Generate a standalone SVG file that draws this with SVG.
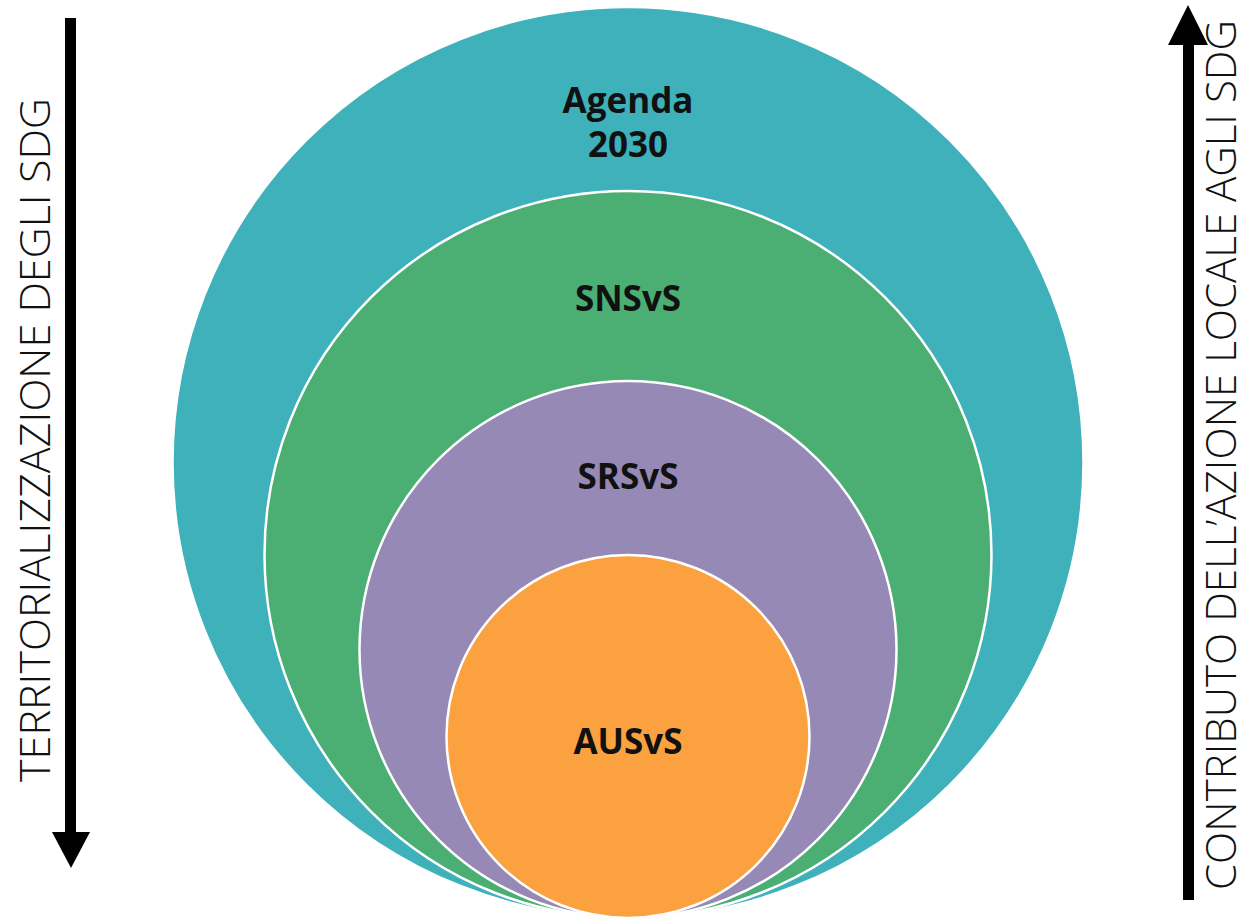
<svg xmlns="http://www.w3.org/2000/svg" width="1246" height="922" viewBox="0 0 1246 922">
<style>
.ring{stroke:#ffffff;stroke-width:2.5}
.lbl{font-family:"Open Sans","DejaVu Sans",sans-serif;font-weight:700;font-size:35px;fill:#111111;text-anchor:middle}
.side{font-family:"Open Sans","DejaVu Sans",sans-serif;font-weight:300;font-size:42px;fill:#111111;text-anchor:middle}
</style>
<rect width="1246" height="922" fill="#ffffff"/>
<g id="agenda2030">
<circle class="ring" cx="628" cy="462.5" r="455.5" fill="#3EB1BB"/>
<text class="lbl" x="628" y="113">Agenda</text>
<text class="lbl" x="628" y="157">2030</text>
</g>
<g id="snsvs">
<circle class="ring" cx="628" cy="554.5" r="363.5" fill="#4BAE72"/>
<text class="lbl" x="628" y="311">SNSvS</text>
</g>
<g id="srsvs">
<circle class="ring" cx="628" cy="649.5" r="268.5" fill="#9789B5"/>
<text class="lbl" x="628" y="489">SRSvS</text>
</g>
<g id="ausvs">
<circle class="ring" cx="628" cy="736.5" r="181.5" fill="#FBA140"/>
<text class="lbl" x="628" y="754">AUSvS</text>
</g>
<g id="connectors">
<rect x="65" y="18" width="11" height="816" fill="#000000"/>
<polygon points="52,832 90,832 71,868" fill="#000000"/>
<rect x="1183" y="43" width="11" height="857" fill="#000000"/>
<polygon points="1168,45 1208,45 1188,5" fill="#000000"/>
</g>
<g id="side-labels">
<text class="side" transform="translate(50,440) rotate(-90)" textLength="684" lengthAdjust="spacingAndGlyphs">TERRITORIALIZZAZIONE DEGLI SDG</text>
<text class="side" transform="translate(1236,455) rotate(-90)" textLength="870" lengthAdjust="spacingAndGlyphs">CONTRIBUTO DELL’AZIONE LOCALE AGLI SDG</text>
</g>
</svg>
